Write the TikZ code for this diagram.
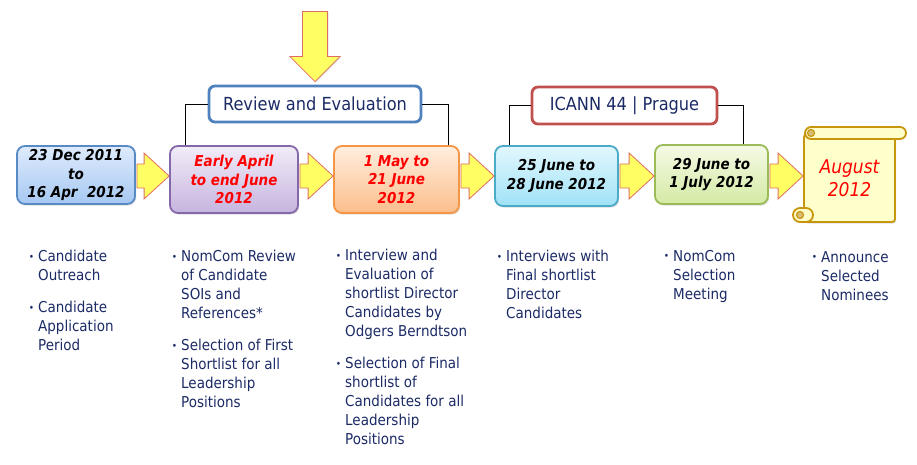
\documentclass[tikz,border=0pt]{standalone}
\usepackage{fontspec}
\setmainfont{DejaVu Sans Condensed}
\usetikzlibrary{calc,shadows}
\definecolor{navy}{RGB}{28,43,102}
\definecolor{ayellow}{RGB}{255,255,100}
\definecolor{ared}{RGB}{222,110,100}
\definecolor{bluetop}{RGB}{222,235,252}
\definecolor{bluebot}{RGB}{166,200,242}
\definecolor{blueline}{RGB}{88,138,198}
\definecolor{purtop}{RGB}{242,236,248}
\definecolor{purbot}{RGB}{198,180,222}
\definecolor{purline}{RGB}{132,104,168}
\definecolor{ortop}{RGB}{255,238,222}
\definecolor{orbot}{RGB}{251,190,140}
\definecolor{orline}{RGB}{245,150,70}
\definecolor{cytop}{RGB}{226,247,253}
\definecolor{cybot}{RGB}{160,226,246}
\definecolor{cyline}{RGB}{75,170,198}
\definecolor{grtop}{RGB}{245,250,230}
\definecolor{grbot}{RGB}{212,234,164}
\definecolor{grline}{RGB}{155,187,89}
\definecolor{revline}{RGB}{79,129,189}
\definecolor{icline}{RGB}{192,80,77}
\definecolor{scrfill}{RGB}{255,255,204}
\definecolor{scrline}{RGB}{200,150,14}
\definecolor{scrdark}{RGB}{215,190,120}
\newcommand{\mybul}{\llap{\raisebox{1.5pt}{\fontsize{10}{10}\selectfont •}\hspace{4pt}}}
\newcommand{\blockarr}[2]{%
  \filldraw[barrow] ($(#1.east|-mid)+(1,-12)$) -- ($(#2.west|-mid)+(-25,-12)$)
    -- ($(#2.west|-mid)+(-25,-23)$) -- (#2.west|-mid)
    -- ($(#2.west|-mid)+(-25,23)$) -- ($(#2.west|-mid)+(-25,12)$)
    -- ($(#1.east|-mid)+(1,12)$) -- cycle;}
\begin{document}
\begin{tikzpicture}[x=1pt,y=-1pt,
  shad/.style={drop shadow={shadow xshift=1.2pt,shadow yshift=-1.6pt,opacity=0.25}},
  datebox/.style={draw, line width=1.8pt, rounded corners=8pt, align=center, inner sep=0pt,
     font=\fontsize{15}{18.5}\selectfont\bfseries\itshape, shad},
  headbox/.style={draw, fill=white, line width=2.8pt, rounded corners=6pt, inner sep=0pt,
     font=\fontsize{18}{22}\selectfont, text=navy},
  barrow/.style={fill=ayellow, draw=ared, line width=0.8pt, line join=miter},
  btext/.style={anchor=north west, align=left, inner sep=0pt, font=\fontsize{15}{19}\selectfont, text=navy},
  conn/.style={draw=black, line width=0.8pt},
  scrollline/.style={draw=scrline, fill=scrfill, line width=1.8pt}]
\useasboundingbox (0,0) rectangle (917,465);
\fill[white] (0,0) rectangle (917,465);
\coordinate (mid) at (0,176);

% date boxes
\node[datebox, draw=blueline, top color=bluetop, bottom color=bluebot, minimum width=118, minimum height=58]
  (b1) at (76,175) {23 Dec 2011\\to\\16 Apr~~2012};
\node[datebox, draw=purline, top color=purtop, bottom color=purbot, minimum width=128, minimum height=67, text=red]
  (b2) at (234,179.5) {Early April\\to end June\\2012};
\node[datebox, draw=orline, top color=ortop, bottom color=orbot, minimum width=125, minimum height=67, text=red]
  (b3) at (396.5,179.5) {1 May to\\21 June\\2012};
\node[datebox, draw=cyline, top color=cytop, bottom color=cybot, minimum width=123, minimum height=60]
  (b4) at (556.5,176) {25 June to\\28 June 2012};
\node[datebox, draw=grline, top color=grtop, bottom color=grbot, minimum width=113, minimum height=59]
  (b5) at (711.5,174.5) {29 June to\\1 July 2012};

% scroll
\node[scrollline, rounded corners=3pt, minimum width=91, minimum height=88, inner sep=0pt, align=center,
  text=red, font=\fontsize{19}{23}\selectfont\itshape, shad] (scr) at (849.5,178) {August\\2012};
\filldraw[scrollline, rounded corners=6pt] (805,127) rectangle (906,139);
\filldraw[draw=scrline, fill=scrdark, line width=1.2pt] (811,133) circle (3.5);
\filldraw[scrollline, rounded corners=7pt] (793,208) rectangle (813,222);
\filldraw[draw=scrline, fill=scrdark, line width=1.2pt] (800,215) circle (3.5);

% header boxes
\node[headbox, draw=revline, minimum width=212, minimum height=36] (rev) at (315,104) {Review and Evaluation};
\node[headbox, draw=icline, minimum width=185, minimum height=37] (ican) at (624.5,105.5) {ICANN 44 | Prague};

% connectors
\draw[conn] (rev.west) -| ($(b2.north west)+(16,0)$);
\draw[conn] (rev.east) -| ($(b3.north east)+(-12,0)$);
\draw[conn] (ican.west) -| ($(b4.north west)+(15,0)$);
\draw[conn] (ican.east) -| ($(b5.north east)+(-26,0)$);

% block arrows
\blockarr{b1}{b2}
\blockarr{b2}{b3}
\blockarr{b3}{b4}
\blockarr{b4}{b5}
\blockarr{b5}{scr}

% down arrow
\coordinate (tip) at ($(rev.north)+(0,-3)$);
\filldraw[barrow, drop shadow={shadow xshift=1pt,shadow yshift=-1pt,opacity=0.2}]
  ($(tip)+(-12.5,-70)$) -- ($(tip)+(12.5,-70)$) -- ($(tip)+(12.5,-25)$) -- ($(tip)+(25,-25)$)
  -- (tip) -- ($(tip)+(-25,-25)$) -- ($(tip)+(-12.5,-25)$) -- cycle;

% bullet texts
\node[btext] (t1a) at (38,250) {\mybul Candidate\\Outreach};
\node[btext] (t1b) at (38,301) {\mybul Candidate\\Application\\Period};
\node[btext] (t2a) at (181,250) {\mybul NomCom Review\\of Candidate\\SOIs and\\References*};
\node[btext] (t2b) at (181,339) {\mybul Selection of First\\Shortlist for all\\Leadership\\Positions};
\node[btext] (t3a) at (345,249) {\mybul Interview and\\Evaluation of\\shortlist Director\\Candidates by\\Odgers Berndtson};
\node[btext] (t3b) at (345,357) {\mybul Selection of Final\\shortlist of\\Candidates for all\\Leadership\\Positions};
\node[btext] (t4) at (506,250) {\mybul Interviews with\\Final shortlist\\Director\\Candidates};
\node[btext] (t5) at (673,250) {\mybul NomCom\\Selection\\Meeting};
\node[btext] (t6) at (821,251) {\mybul Announce\\Selected\\Nominees};
\end{tikzpicture}
\end{document}
